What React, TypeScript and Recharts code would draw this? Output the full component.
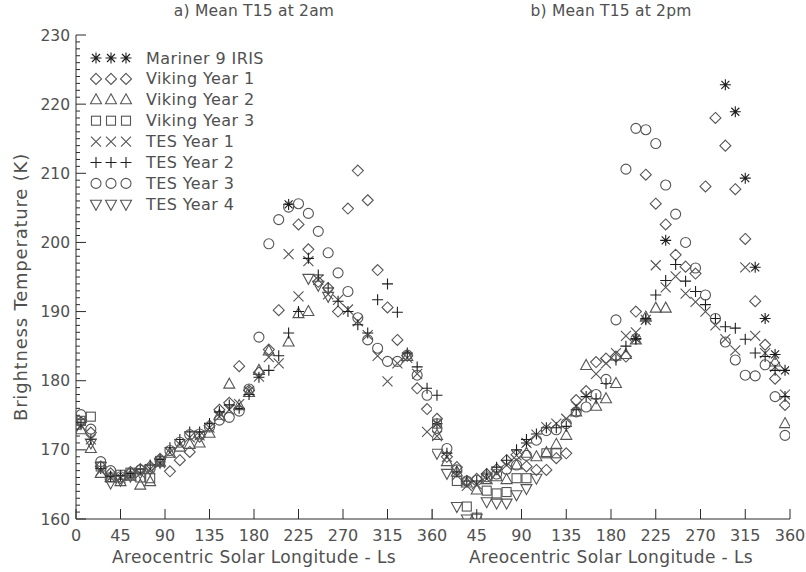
import React from 'react';
import { ScatterChart, Scatter, XAxis, YAxis, Legend } from 'recharts';

// ---------- data ----------
const LS = [5, 15, 25, 35, 45, 55, 65, 75, 85, 95, 105, 115, 125, 135, 145, 155, 165, 175, 185, 195, 205, 215, 225, 235, 245, 255, 265, 275, 285, 295, 305, 315, 325, 335, 345, 355];
const X_TICKS = [0, 45, 90, 135, 180, 225, 270, 315, 360];
const Y_LABELS = [160, 170, 180, 190, 200, 210, 220, 230];

// a) 2am
const AM_MARINER_LS = [215];
const AM_MARINER_T = [205.5];
const AM_VK1_T = [174.0, 172.5, 167.6, 166.6, 165.9, 166.8, 167.2, 167.6, 168.7, 166.9, 168.5, 169.7, 171.9, 173.5, 175.8, 176.8, 182.1, 178.6, 181.2, 184.5, 190.2, null, 202.6, 199.0, 194.3, 193.4, 190.0, 204.9, 210.4, 206.1, 196.0, 190.6, 185.9, 183.6, 178.9, 175.9];
const AM_VK2_LS = [5, 15, 25, 35, 45, 55, 65, 75, 85, 95, 105, 115, 125, 135, 145, 155, 165, 175, 185, 195, 215, 225, 235, 335];
const AM_VK2_T = [172.9, 170.2, 166.6, 166.0, 165.4, 166.2, 164.9, 165.4, 168.2, 169.5, 170.4, 170.8, 171.0, 172.4, 175.0, 179.5, 176.4, 178.3, 181.5, 184.3, 185.6, 189.7, 190.0, 183.5];
const AM_VK3_LS = [5, 15, 25, 35, 45, 55, 65, 75, 85];
const AM_VK3_T = [174.2, 174.8, 167.6, 166.0, 166.4, 166.7, 166.0, 165.9, 168.4];
const AM_TES1_T = [173.5, 171.5, 167.0, 166.0, 165.9, 166.2, 166.6, 167.2, 168.1, 169.6, 170.8, 171.8, 172.1, 173.2, 174.8, 175.8, 176.6, 178.5, 180.6, 183.4, 182.5, 198.3, 192.2, 197.3, 194.6, 192.5, 191.7, 190.3, 188.6, 186.6, 183.6, 179.9, 182.5, 183.3, 181.0, 172.6];
const AM_TES2_T = [174.0, 171.5, 167.3, 166.2, 166.3, 166.6, 167.2, 167.8, 168.6, 170.3, 171.5, 172.6, 172.6, 173.8, 175.5, 176.5, 176.0, 178.0, 180.5, 181.5, 183.6, 186.9, 190.0, 197.7, 195.3, 193.4, 191.5, 190.0, 188.1, 186.9, 191.7, 194.0, 189.9, 184.0, 182.0, 178.9];
const AM_TES3_T = [175.1, 173.0, 168.3, 167.0, 166.1, 166.5, 167.1, 167.3, 168.4, 169.9, 171.1, 172.2, 172.3, 173.3, 174.3, 174.7, 175.6, 178.8, 186.3, 199.8, 203.3, 205.1, 205.6, 204.2, 201.6, 198.5, 195.6, 192.9, 189.1, 185.9, 184.7, 182.8, 182.8, 183.7, 180.8, 177.9];
const AM_TES4_LS = [5, 15, 25, 35, 45, 55, 65, 75, 85, 235, 245, 255];
const AM_TES4_T = [173.8, 171.0, 167.6, 165.2, 165.6, 166.2, 166.7, 167.2, 168.2, 194.8, 193.8, 192.2];

// b) 2pm
const PM_MARINER_LS = [5, 95, 205, 215, 235, 295, 305, 315, 325, 335, 345, 355];
const PM_MARINER_T = [173.8, 171.0, 186.1, 188.8, 200.3, 222.8, 218.9, 209.3, 196.4, 189.0, 183.8, 181.5];
const PM_VK1_T = [174.5, 169.0, 167.5, 165.5, 165.8, 166.5, 167.2, 168.5, 169.3, 167.6, 167.1, 167.1, 168.8, 169.5, 177.2, 178.5, 182.7, 183.2, 183.5, 183.5, 190.0, 209.8, 205.6, 202.6, 198.2, 196.5, 195.5, 208.1, 218.0, 214.0, 207.7, 200.5, 191.5, 185.2, 180.3, 176.5];
const PM_VK2_LS = [5, 15, 25, 35, 45, 55, 65, 75, 85, 95, 105, 115, 125, 135, 145, 155, 165, 175, 185, 195, 205, 215, 225, 235, 345, 355];
const PM_VK2_T = [172.1, 168.3, 166.8, 165.2, 164.2, 165.7, 166.1, 165.7, 167.8, 169.5, 169.0, 169.6, 170.8, 172.1, 175.5, 182.2, 176.3, 177.4, 179.6, 183.8, 185.9, 189.2, 190.5, 190.5, 182.7, 173.8];
const PM_VK3_LS = [5, 25, 35, 45, 55, 65, 75, 85, 95, 115, 125];
const PM_VK3_T = [173.8, 165.5, 161.8, 160.2, 164.1, 163.7, 163.9, 165.9, 165.9, 169.5, 169.5];
const PM_TES1_T = [172.0, 169.0, 166.3, 164.8, 165.0, 165.8, 166.6, 167.8, 169.2, 171.0, 172.2, 173.3, 173.8, 174.5, 176.3, 177.8, 181.0, 182.5, 184.0, 186.5, 187.0, 188.8, 196.7, 193.5, 195.1, 192.6, 191.4, 190.0, 188.0, 186.0, 184.4, 196.4, 186.5, 184.0, 182.0, 178.0];
const PM_TES2_T = [177.9, 169.5, 166.8, 165.5, 165.5, 166.5, 167.5, 168.5, 170.0, 171.5, 172.3, 173.2, 173.2, 173.4, 175.8, 177.7, 177.4, 179.6, 183.0, 185.0, 186.0, 189.0, 192.4, 194.5, 196.8, 194.4, 192.9, 191.0, 189.0, 187.8, 187.6, 186.0, 184.0, 183.5, 181.5, 177.7];
const PM_TES3_T = [173.1, 170.2, 167.1, 165.5, 165.6, 166.1, 166.5, 167.2, 167.8, 169.2, 171.4, 172.8, 172.9, 173.8, 175.5, 176.2, 178.0, 180.2, 188.8, 210.6, 216.5, 216.3, 214.3, 208.3, 204.1, 200.0, 196.3, 192.4, 189.0, 185.6, 183.0, 180.8, 180.7, 182.3, 177.7, 172.1];
const PM_TES4_LS = [5, 15, 25, 35, 45, 55, 65, 75, 85, 95, 105];
const PM_TES4_T = [169.5, 166.6, 161.8, 160.0, 160.1, 162.5, 162.3, 162.3, 163.5, 164.4, 165.9];

const SERIES_NAMES = ['Mariner 9 IRIS', 'Viking Year 1', 'Viking Year 2', 'Viking Year 3', 'TES Year 1', 'TES Year 2', 'TES Year 3', 'TES Year 4'];
const SERIES_KINDS = ['star', 'diamond', 'triangle', 'square', 'x', 'plus', 'circle', 'tridown'];

// ---------- helpers ----------
const zip = (ls: number[], t: (number | null)[]) =>
  ls.map((l, i) => ({ ls: l, t: t[i] })).filter((p) => p.t !== null && p.t !== undefined);

const AM = [
  zip(AM_MARINER_LS, AM_MARINER_T),
  zip(LS, AM_VK1_T),
  zip(AM_VK2_LS, AM_VK2_T),
  zip(AM_VK3_LS, AM_VK3_T),
  zip(LS, AM_TES1_T),
  zip(LS, AM_TES2_T),
  zip(LS, AM_TES3_T),
  zip(AM_TES4_LS, AM_TES4_T),
];
const PM = [
  zip(PM_MARINER_LS, PM_MARINER_T),
  zip(LS, PM_VK1_T),
  zip(PM_VK2_LS, PM_VK2_T),
  zip(PM_VK3_LS, PM_VK3_T),
  zip(LS, PM_TES1_T),
  zip(LS, PM_TES2_T),
  zip(LS, PM_TES3_T),
  zip(PM_TES4_LS, PM_TES4_T),
];

const Y_ALL: number[] = [];
for (let v = 160; v <= 230; v++) Y_ALL.push(v);

const AXIS = '#2a2a2a';
const TEXT = '#505050';
const FONT = '"DejaVu Sans", sans-serif';
const MARK = '#555';
const DARK = '#1e1e1e';

function Marker({ kind, cx, cy }: { kind: string; cx: number; cy: number }) {
  const sw = 1.1;
  if (cx == null || cy == null || isNaN(cx) || isNaN(cy)) return null;
  switch (kind) {
    case 'circle':
      return <circle cx={cx} cy={cy} r={5} fill="none" stroke={MARK} strokeWidth={sw} />;
    case 'diamond':
      return <path d={`M${cx},${cy - 5.5}L${cx + 5.5},${cy}L${cx},${cy + 5.5}L${cx - 5.5},${cy}Z`} fill="none" stroke={MARK} strokeWidth={sw} />;
    case 'triangle':
      return <path d={`M${cx},${cy - 6}L${cx + 5.5},${cy + 4}L${cx - 5.5},${cy + 4}Z`} fill="none" stroke={MARK} strokeWidth={sw} />;
    case 'tridown':
      return <path d={`M${cx},${cy + 6}L${cx + 5.5},${cy - 4}L${cx - 5.5},${cy - 4}Z`} fill="none" stroke={MARK} strokeWidth={sw} />;
    case 'square':
      return <rect x={cx - 4.5} y={cy - 4.5} width={9} height={9} fill="none" stroke={MARK} strokeWidth={sw} />;
    case 'x':
      return (
        <path d={`M${cx - 5},${cy - 5}L${cx + 5},${cy + 5}M${cx - 5},${cy + 5}L${cx + 5},${cy - 5}`} stroke={MARK} strokeWidth={sw} fill="none" />
      );
    case 'plus':
      return <path d={`M${cx - 5.5},${cy}L${cx + 5.5},${cy}M${cx},${cy - 5.5}L${cx},${cy + 5.5}`} stroke={DARK} strokeWidth={sw} fill="none" />;
    case 'star':
      return (
        <path
          d={`M${cx - 5.5},${cy}L${cx + 5.5},${cy}M${cx},${cy - 5.5}L${cx},${cy + 5.5}M${cx - 4},${cy - 4}L${cx + 4},${cy + 4}M${cx - 4},${cy + 4}L${cx + 4},${cy - 4}`}
          stroke={DARK}
          strokeWidth={sw}
          fill="none"
        />
      );
    default:
      return null;
  }
}

function BottomTick(props: any) {
  const { x, y, payload, showLabel, hideZero } = props;
  const v = payload.value;
  return (
    <g>
      <line x1={x} y1={y} x2={x} y2={y - 10} stroke={AXIS} />
      {showLabel && !(hideZero && v === 0) && (
        <text x={x} y={y + 21.5} textAnchor="middle" fontSize={16} fill={TEXT} fontFamily={FONT}>
          {v}
        </text>
      )}
    </g>
  );
}
function TopTick(props: any) {
  const { x, y } = props;
  return <line x1={x} y1={y} x2={x} y2={y + 10} stroke={AXIS} />;
}
function LeftTick(props: any) {
  const { x, y, payload, showLabel } = props;
  const v = payload.value;
  const major = v % 10 === 0;
  return (
    <g>
      <line x1={x} y1={y} x2={x + (major ? 10 : 4)} y2={y} stroke={AXIS} />
      {showLabel && major && (
        <text x={x - 6} y={y + 5.5} textAnchor="end" fontSize={15.5} fill={TEXT} fontFamily={FONT}>
          {v}
        </text>
      )}
    </g>
  );
}
function RightTick(props: any) {
  const { x, y, payload } = props;
  const v = payload.value;
  const major = v % 10 === 0;
  return <line x1={x} y1={y} x2={x - (major ? 10 : 4)} y2={y} stroke={AXIS} />;
}

function LegendBox() {
  return (
    <svg width={200} height={175}>
      {SERIES_NAMES.map((name, i) => {
        const cy = 10 + i * 20.9;
        return (
          <g key={name}>
            <Marker kind={SERIES_KINDS[i]} cx={10} cy={cy} />
            <Marker kind={SERIES_KINDS[i]} cx={25} cy={cy} />
            <Marker kind={SERIES_KINDS[i]} cx={40} cy={cy} />
            <text x={60} y={cy + 5.5} fontSize={16} letterSpacing={0.4} fill={TEXT} fontFamily={FONT}>
              {name}
            </text>
          </g>
        );
      })}
    </svg>
  );
}

function Panel({ data, left, width, yAxisWidth, marginRight, showYLabels, hideZero, withLegend }: any) {
  return (
    <div style={{ position: 'absolute', left, top: 0, width, height: 572 }}>
      <ScatterChart width={width} height={572} margin={{ top: 35, right: marginRight, bottom: 0, left: 0 }}>
        <XAxis
          xAxisId="b"
          dataKey="ls"
          type="number"
          orientation="bottom"
          domain={[0, 360]}
          ticks={X_TICKS}
          interval={0}
          allowDataOverflow
          height={53}
          tickSize={0}
          tickMargin={0}
          stroke={AXIS}
          tick={(p: any) => <BottomTick {...p} showLabel hideZero={hideZero} />}
        />
        <XAxis
          xAxisId="t"
          type="number"
          orientation="top"
          domain={[0, 360]}
          ticks={X_TICKS}
          interval={0}
          allowDataOverflow
          height={0}
          tickSize={0}
          tickMargin={0}
          stroke={AXIS}
          tick={(p: any) => <TopTick {...p} />}
        />
        <YAxis
          yAxisId="l"
          dataKey="t"
          type="number"
          orientation="left"
          domain={[160, 230]}
          ticks={Y_ALL}
          interval={0}
          allowDataOverflow
          width={yAxisWidth}
          tickSize={0}
          tickMargin={0}
          stroke={AXIS}
          tick={(p: any) => <LeftTick {...p} showLabel={showYLabels} />}
        />
        <YAxis
          yAxisId="r"
          type="number"
          orientation="right"
          domain={[160, 230]}
          ticks={Y_ALL}
          interval={0}
          allowDataOverflow
          width={0}
          tickSize={0}
          tickMargin={0}
          stroke={AXIS}
          tick={(p: any) => <RightTick {...p} />}
        />
        {data.map((d: any[], i: number) => (
          <Scatter
            key={SERIES_NAMES[i]}
            name={SERIES_NAMES[i]}
            data={d}
            xAxisId="b"
            yAxisId="l"
            isAnimationActive={false}
            shape={(p: any) => <Marker kind={SERIES_KINDS[i]} cx={p.cx} cy={p.cy} />}
          />
        ))}
        {withLegend && (
          <Legend
            layout="vertical"
            align="center"
            verticalAlign="middle"
            wrapperStyle={{ position: 'absolute', top: 48, left: 86, width: 200 }}
            content={() => <LegendBox />}
          />
        )}
      </ScatterChart>
    </div>
  );
}

const textStyle: React.CSSProperties = {
  position: 'absolute',
  fontFamily: FONT,
  color: TEXT,
  whiteSpace: 'nowrap',
  lineHeight: 1,
};

export default function App() {
  return (
    <div style={{ position: 'absolute', left: 0, top: 0, width: 806, height: 572, background: '#fff', overflow: 'hidden' }}>
      <Panel data={AM} left={0} width={452} yAxisWidth={76} marginRight={20} showYLabels hideZero={false} withLegend />
      <Panel data={PM} left={432} width={374} yAxisWidth={0} marginRight={16} showYLabels={false} hideZero withLegend={false} />
      <div style={{ ...textStyle, left: 254, top: 12, fontSize: 15.5, letterSpacing: 0.2, transform: 'translate(-50%, -50%)' }}>a) Mean T15 at 2am</div>
      <div style={{ ...textStyle, left: 611, top: 12, fontSize: 15.5, letterSpacing: 0.2, transform: 'translate(-50%, -50%)' }}>b) Mean T15 at 2pm</div>
      <div style={{ ...textStyle, left: 254, top: 557, fontSize: 17, letterSpacing: 0.4, transform: 'translate(-50%, -50%)' }}>Areocentric Solar Longitude - Ls</div>
      <div style={{ ...textStyle, left: 611, top: 557, fontSize: 17, letterSpacing: 0.4, transform: 'translate(-50%, -50%)' }}>Areocentric Solar Longitude - Ls</div>
      <div style={{ ...textStyle, left: 21, top: 287, fontSize: 18, letterSpacing: 0.8, transform: 'translate(-50%, -50%) rotate(-90deg)' }}>Brightness Temperature (K)</div>
    </div>
  );
}
